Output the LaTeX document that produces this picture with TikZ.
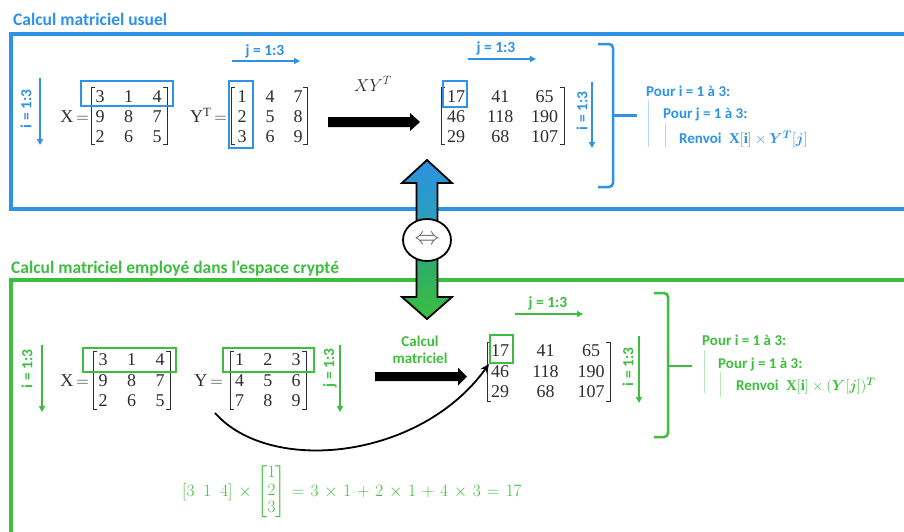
\documentclass[tikz,border=0pt]{standalone}
\usepackage{amsmath}
\usepackage{fontspec}
\setmainfont{Liberation Serif}
\newfontfamily\carl{Carlito}
\usetikzlibrary{arrows.meta,shapes.geometric}
\definecolor{cblue}{RGB}{46,146,230}
\definecolor{cgreen}{RGB}{62,190,62}
\definecolor{numc}{RGB}{45,45,45}
\tikzset{
  num/.style={inner sep=0pt, text=numc, font=\fontsize{18}{20}\selectfont},
  brk/.style={draw=numc, line width=0.9pt},
  hbox/.style={draw, line width=2pt, inner sep=0pt},
  slbl/.style={font=\carl\bfseries\fontsize{15.5}{18}\selectfont, inner sep=0pt},
  plbl/.style={font=\carl\bfseries\fontsize{15}{18}\selectfont, inner sep=0pt, anchor=west},
  ttl/.style={font=\carl\bfseries\fontsize{17.5}{20}\selectfont, inner sep=0pt, anchor=base west},
  thinarr/.style={line width=2pt, -{Triangle[length=6pt,width=6pt]}},
  bigbrk/.style={line width=2.5pt, rounded corners=4pt},
  guide/.style={line width=0.6pt},
  eqtxt/.style={inner sep=0pt, font=\fontsize{18}{20}\selectfont},
}
\newcommand\putmat[6]{%
  \foreach \row [count=\ii] in {#6} {%
    \foreach \val [count=\jj] in \row {%
      \node[num] (#1\ii\jj) at ({#2+(\jj-1)*#3},{#4+(\ii-1)*#5}) {\val};
    }
  }
}
\newcommand\mbrk[4]{% left x, right x, top y, bottom y
  \draw[brk] (#1+4,#3) -- (#1,#3) -- (#1,#4) -- (#1+4,#4);
  \draw[brk] (#2-4,#3) -- (#2,#3) -- (#2,#4) -- (#2-4,#4);
}
\begin{document}
\begin{tikzpicture}[x=1pt,y=-1pt]
\useasboundingbox[fill=white] (0,0) rectangle (904,531);

% ---------------- frames and titles
\draw[cblue, line width=4pt] (912,33.5) -- (10.5,33.5) -- (10.5,209) -- (912,209);
\draw[cgreen, line width=4pt] (912,279.5) -- (10.5,279.5) -- (10.5,540);
\node[ttl, text=cblue] (t1) at (13,25) {Calcul matriciel usuel};
\node[ttl, text=cgreen] (t2) at (11,273) {Calcul matriciel employé dans l’espace crypté};

% ================= TOP =================
\node[slbl, text=cblue, rotate=90] (ti1) at (26,109) {i = 1:3};
\coordinate (ti1a) at (40,78); \coordinate (ti1b) at (40,145);
\draw[thinarr, cblue] (ti1a) -- (ti1b);

\node[num, anchor=base east] (tXeq) at (89,122.5) {X\,$=$};
\putmat{tX}{100}{28.5}{96.5}{20}{{3,1,4},{9,8,7},{2,6,5}}
\mbrk{91}{167}{87}{144}
\node[hbox, cblue, minimum width=92pt, minimum height=25pt] (tXbox) at (127,93.5) {};

\node[num, anchor=base east] (tYeq) at (227,122.5) {Y\textsuperscript{T}\,$=$};
\putmat{tY}{242}{28}{96.5}{20}{{1,4,7},{2,5,8},{3,6,9}}
\mbrk{231}{307}{87}{144}
\node[hbox, cblue, minimum width=24pt, minimum height=67pt] (tYbox) at (241,114.5) {};
\node[slbl, text=cblue] (tj1) at (265,51) {j = 1:3};
\coordinate (tj1a) at (232,61); \coordinate (tj1b) at (300,61);
\draw[thinarr, cblue] (tj1a) -- (tj1b);

\node[num, anchor=base] (txy) at (373,91) {$XY^T$};
\fill (328,117) -- (410,117) -- (410,113) -- (420,122) -- (410,131) -- (410,127) -- (328,127) -- cycle;

\putmat{tR}{456}{44.3}{97}{20}{{17,41,65},{46,118,190},{29,68,107}}
\mbrk{441}{564}{87}{144}
\node[hbox, cblue, minimum width=24pt, minimum height=26pt] (tRbox) at (455,93.5) {};
\node[slbl, text=cblue] (tj2) at (496,48) {j = 1:3};
\coordinate (tj2a) at (468,59); \coordinate (tj2b) at (536,59);
\draw[thinarr, cblue] (tj2a) -- (tj2b);
\node[slbl, text=cblue, rotate=90] (ti2) at (582,111) {i = 1:3};
\coordinate (ti2a) at (592,82); \coordinate (ti2b) at (592,148);
\draw[thinarr, cblue] (ti2a) -- (ti2b);

\draw[bigbrk, cblue] (598,44) -- (613,44) -- (613,187) -- (598,187);
\draw[cblue, line width=2.5pt] (613,115.5) -- (637,115.5);
\node[plbl, text=cblue] (tp1) at (646,91) {Pour i = 1 à 3:};
\node[plbl, text=cblue] (tp2) at (663,114) {Pour j = 1 à 3:};
\node[plbl, text=cblue] (tp3) at (679,139) {Renvoi\enspace$\mathbf{X}[\mathbf{i}]\times\boldsymbol{Y}^{\boldsymbol{T}}[\boldsymbol{j}]$};
\draw[guide, cblue!35] (648,100) -- (648,147);
\draw[guide, cblue!35] (665,123) -- (665,147);

% ================= MIDDLE DOUBLE ARROW =================
\path[draw=black, line width=1.8pt, top color={rgb,255:red,45;green,145;blue,225}, bottom color={rgb,255:red,40;green,165;blue,175}]
  (427,160) -- (452,183) -- (437.5,183) -- (437.5,238) -- (416.5,238) -- (416.5,183) -- (402,183) -- cycle;
\path[draw=black, line width=1.8pt, top color={rgb,255:red,40;green,165;blue,130}, bottom color={rgb,255:red,60;green,190;blue,60}]
  (416.5,240) -- (416.5,297) -- (402,297) -- (427,319) -- (452,297) -- (437.5,297) -- (437.5,240) -- cycle;
\node[ellipse, draw, fill=white, line width=1.8pt, minimum width=48pt, minimum height=42pt, inner sep=0pt, text=black!60, font=\fontsize{26}{28}\selectfont] (eqv) at (427,240) {$\Leftrightarrow$};

% ================= BOTTOM =================
\node[slbl, text=cgreen, rotate=90] (bi1) at (27,369) {i = 1:3};
\coordinate (bi1a) at (42,345); \coordinate (bi1b) at (42,412);
\draw[thinarr, cgreen] (bi1a) -- (bi1b);

\node[num, anchor=base east] (bXeq) at (89,386.5) {X\,$=$};
\putmat{bX}{103}{28.5}{360}{20.5}{{3,1,4},{9,8,7},{2,6,5}}
\mbrk{93}{170}{351}{409}
\node[hbox, cgreen, minimum width=93pt, minimum height=24pt] (bXbox) at (129.5,360) {};

\node[num, anchor=base east] (bYeq) at (223,386.5) {Y\,$=$};
\putmat{bY}{239.5}{28.3}{360}{20.5}{{1,2,3},{4,5,6},{7,8,9}}
\mbrk{230}{306}{351}{409}
\node[hbox, cgreen, minimum width=91pt, minimum height=24pt] (bYbox) at (268.5,360) {};
\node[slbl, text=cgreen, rotate=90] (bj1) at (330,368) {j = 1:3};
\coordinate (bj1a) at (340,345); \coordinate (bj1b) at (340,412);
\draw[thinarr, cgreen] (bj1a) -- (bj1b);

\node[slbl, text=cgreen, align=center, font=\carl\bfseries\fontsize{15}{17}\selectfont] (bcalc) at (420,350) {Calcul\\matriciel};
\fill (375,372) -- (458,372) -- (458,367.5) -- (467,376.5) -- (458,385.5) -- (458,381) -- (375,381) -- cycle;

\putmat{bR}{500}{45.5}{351}{20.5}{{17,41,65},{46,118,190},{29,68,107}}
\mbrk{487}{610}{342}{401}
\node[hbox, cgreen, minimum width=23pt, minimum height=28pt] (bRbox) at (501.5,349) {};
\node[slbl, text=cgreen] (bj2) at (548,303) {j = 1:3};
\coordinate (bj2a) at (515,314); \coordinate (bj2b) at (583,314);
\draw[thinarr, cgreen] (bj2a) -- (bj2b);
\node[slbl, text=cgreen, rotate=90] (bi2) at (628,367) {i = 1:3};
\coordinate (bi2a) at (639,336); \coordinate (bi2b) at (639,403);
\draw[thinarr, cgreen] (bi2a) -- (bi2b);

\draw[bigbrk, cgreen] (654,293) -- (668,293) -- (668,437) -- (654,437);
\draw[cgreen, line width=2.5pt] (668,366) -- (692,366);
\node[plbl, text=cgreen] (bp1) at (702,340) {Pour i = 1 à 3:};
\node[plbl, text=cgreen] (bp2) at (718,364) {Pour j = 1 à 3:};
\node[plbl, text=cgreen] (bp3) at (736,386) {Renvoi\enspace$\mathbf{X}[\mathbf{i}]\times(\boldsymbol{Y}[\boldsymbol{j}])^{\boldsymbol{T}}$};
\draw[guide, cgreen!35] (704,350) -- (704,393);
\draw[guide, cgreen!35] (720,372) -- (720,397);

% curved arrow
\coordinate (cs) at (215,413);
\draw[line width=1.8pt, -{Stealth[length=9pt,width=8pt]}] (cs) .. controls (270,475) and (420,460) .. (bRbox.south west);

% equation
\node[eqtxt, text=cgreen, anchor=base west] (beq) at (182,496)
  {\renewcommand{\arraystretch}{0.86}\medmuskip=6mu\thickmuskip=6.5mu$[3\ \ 1\ \ 4]\times\begin{bmatrix}1\\2\\3\end{bmatrix} = 3\times1+2\times1+4\times3 = 17$};
\end{tikzpicture}
\end{document}
